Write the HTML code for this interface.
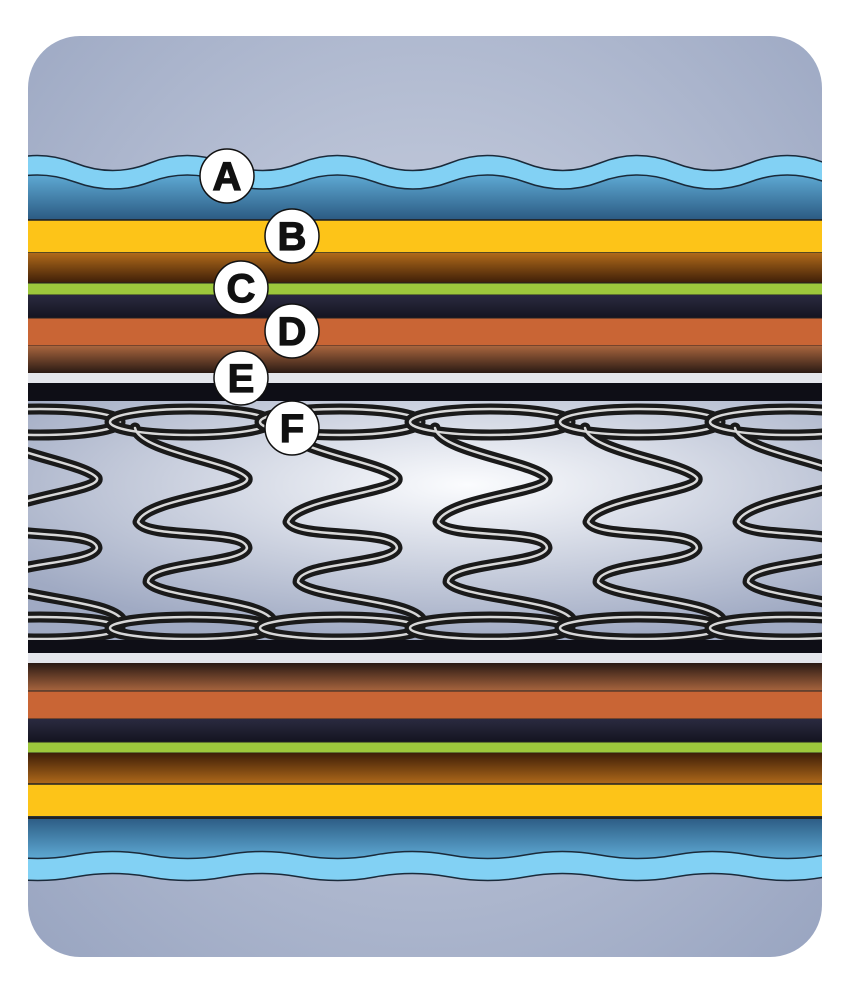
<!DOCTYPE html>
<html><head><meta charset="utf-8"><style>
html,body{margin:0;padding:0;background:#fff;width:850px;height:995px;overflow:hidden}
svg{display:block}
text{font-family:"Liberation Sans",sans-serif;font-weight:bold}
</style></head><body>
<svg width="850" height="995" viewBox="0 0 850 995" xmlns="http://www.w3.org/2000/svg">
<defs>
<clipPath id="c"><rect x="28" y="36" width="794" height="921" rx="52"/></clipPath>
<radialGradient id="bg" cx="0.5" cy="0.45" r="0.7"><stop offset="0" stop-color="#d2d8e6"/><stop offset="1" stop-color="#98a4c0"/></radialGradient>
<radialGradient id="sp" cx="0.55" cy="0.35" r="0.65"><stop offset="0" stop-color="#fbfcfe"/><stop offset="1" stop-color="#a0aac3"/></radialGradient>
<linearGradient id="blueT" x1="0" y1="0" x2="0" y2="1"><stop offset="0" stop-color="#5ea9d3"/><stop offset="1" stop-color="#2b5a82"/></linearGradient>
<linearGradient id="blueB" x1="0" y1="1" x2="0" y2="0"><stop offset="0" stop-color="#5ea9d3"/><stop offset="1" stop-color="#2b5a82"/></linearGradient>
<linearGradient id="brT" x1="0" y1="0" x2="0" y2="1"><stop offset="0" stop-color="#b06a1a"/><stop offset="1" stop-color="#3e1e08"/></linearGradient>
<linearGradient id="brB" x1="0" y1="1" x2="0" y2="0"><stop offset="0" stop-color="#b06a1a"/><stop offset="1" stop-color="#3e1e08"/></linearGradient>
<linearGradient id="br2T" x1="0" y1="0" x2="0" y2="1"><stop offset="0" stop-color="#a8653e"/><stop offset="1" stop-color="#2a1a14"/></linearGradient>
<linearGradient id="br2B" x1="0" y1="1" x2="0" y2="0"><stop offset="0" stop-color="#a8653e"/><stop offset="1" stop-color="#2a1a14"/></linearGradient>
<linearGradient id="nvT" x1="0" y1="0" x2="0" y2="1"><stop offset="0" stop-color="#2a2a40"/><stop offset="1" stop-color="#141420"/></linearGradient>
<g id="spr" fill="none" stroke-linecap="round" stroke-linejoin="round">
<g stroke="#1a1a1a" stroke-width="11">
<ellipse cx="190" cy="422" rx="80" ry="13"/>
<path d="M135 428 C140 452 235 462 247 478 C252 492 145 498 138 522 C148 540 245 528 247 548 C242 565 148 562 148 582 C160 598 262 600 272 620"/>
<ellipse cx="190" cy="628" rx="80" ry="11"/>
</g>
<g stroke="#d8d8d8" stroke-width="2.5">
<ellipse cx="190" cy="422" rx="80" ry="13"/>
<path d="M135 428 C140 452 235 462 247 478 C252 492 145 498 138 522 C148 540 245 528 247 548 C242 565 148 562 148 582 C160 598 262 600 272 620"/>
<ellipse cx="190" cy="628" rx="80" ry="11"/>
</g>
</g>
</defs>
<g clip-path="url(#c)">
<rect x="0" y="0" width="850" height="995" fill="url(#bg)"/>
<path d="M0 163 Q37 148 75 163 T150 163 T225 163 T300 163 T375 163 T450 163 T525 163 T600 163 T675 163 T750 163 T825 163 T900 163 V220 H0Z" fill="#82d1f4" stroke="#1a2a3a" stroke-width="1.5"/>
<path d="M0 182 Q37 168 75 182 T150 182 T225 182 T300 182 T375 182 T450 182 T525 182 T600 182 T675 182 T750 182 T825 182 T900 182 V220 H0Z" fill="url(#blueT)" stroke="#1a2a3a" stroke-width="1.5"/>
<rect x="0" y="220" width="850" height="33" fill="#fdc418" stroke="#222" stroke-width="1.5"/>
<rect x="0" y="253" width="850" height="30" fill="url(#brT)"/>
<rect x="0" y="283" width="850" height="12" fill="#9dc83c" stroke="#222" stroke-width="1"/>
<rect x="0" y="295" width="850" height="23" fill="url(#nvT)"/>
<rect x="0" y="318" width="850" height="28" fill="#c96535" stroke="#222" stroke-width="1"/>
<rect x="0" y="346" width="850" height="27" fill="url(#br2T)"/>
<rect x="0" y="373" width="850" height="10" fill="#e4e6ec"/>
<rect x="0" y="383" width="850" height="18" fill="#0e0e16"/>
<rect x="0" y="401" width="850" height="240" fill="url(#sp)"/>
<use href="#spr" x="-150"/>
<use href="#spr" x="0"/>
<use href="#spr" x="150"/>
<use href="#spr" x="300"/>
<use href="#spr" x="450"/>
<use href="#spr" x="600"/>
<rect x="0" y="640" width="850" height="13" fill="#0e0e16"/>
<rect x="0" y="653" width="850" height="10" fill="#e4e6ec"/>
<rect x="0" y="663" width="850" height="28" fill="url(#br2B)"/>
<rect x="0" y="691" width="850" height="28" fill="#c96535" stroke="#222" stroke-width="1"/>
<rect x="0" y="719" width="850" height="23" fill="url(#nvT)"/>
<rect x="0" y="742" width="850" height="11" fill="#9dc83c" stroke="#222" stroke-width="1"/>
<rect x="0" y="753" width="850" height="31" fill="url(#brB)"/>
<rect x="0" y="784" width="850" height="33" fill="#fdc418" stroke="#222" stroke-width="1.5"/>
<path d="M0 817 H900 V877 Q862 870 825 877 T750 877 T675 877 T600 877 T525 877 T450 877 T375 877 T300 877 T225 877 T150 877 T75 877 T0 877Z" fill="#82d1f4" stroke="#1a2a3a" stroke-width="1.5"/>
<path d="M0 817 H900 V855 Q862 848 825 855 T750 855 T675 855 T600 855 T525 855 T450 855 T375 855 T300 855 T225 855 T150 855 T75 855 T0 855Z" fill="url(#blueB)" stroke="#1a2a3a" stroke-width="1.5"/>
<rect x="0" y="817" width="850" height="2" fill="#222"/>
</g>
<g fill="#fff" stroke="#111" stroke-width="1.5">
<circle cx="227" cy="176" r="27"/>
<circle cx="292" cy="236" r="27"/>
<circle cx="241" cy="288" r="27"/>
<circle cx="292" cy="331" r="27"/>
<circle cx="241" cy="378" r="27"/>
<circle cx="292" cy="428" r="27"/>
</g>
<g font-size="40" text-anchor="middle" fill="#111" stroke="#111" stroke-width="1.2">
<text x="227" y="190">A</text>
<text x="292" y="250">B</text>
<text x="241" y="302">C</text>
<text x="292" y="345">D</text>
<text x="241" y="392">E</text>
<text x="292" y="442">F</text>
</g>
</svg>
</body></html>
